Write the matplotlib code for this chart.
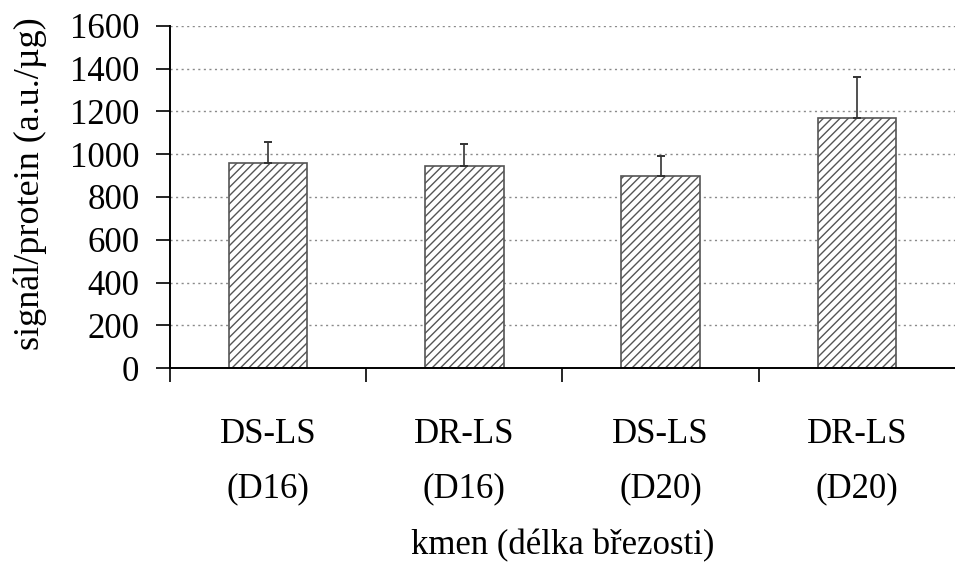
import matplotlib.pyplot as plt
import numpy as np

# Data
categories = ["DS-LS\n(D16)", "DR-LS\n(D16)", "DS-LS\n(D20)", "DR-LS\n(D20)"]
values = [960, 945, 900, 1170]
errors = [97, 103, 90, 190]
y_ticks = [0, 200, 400, 600, 800, 1000, 1200, 1400, 1600]

plt.rcParams['font.family'] = ['Liberation Serif', 'DejaVu Serif']
plt.rcParams['hatch.color'] = '#808080'
plt.rcParams['hatch.linewidth'] = 1.0

fig = plt.figure(figsize=(9.55, 5.62), dpi=100)
ax = fig.add_axes([0.178, 0.345, 0.822, 0.609])

x = np.arange(len(categories)) + 0.5

# Dotted horizontal grid lines
for yt in y_ticks[1:]:
    ax.axhline(yt, color='#8a8a8a', linestyle=(0, (1.5, 2.5)), linewidth=1.0, zorder=0)

ax.bar(x, values, width=0.4, color='white', edgecolor='#555555', linewidth=1.2,
       hatch='////', zorder=2)
ax.errorbar(x, values, yerr=[np.zeros(len(errors)), errors], fmt='none',
            ecolor='#333333', elinewidth=1.2, capsize=3, capthick=1.4, zorder=3)

ax.set_xlim(0, 4)
ax.set_ylim(0, 1600)
ax.set_yticks(y_ticks)
ax.tick_params(axis='y', direction='out', length=10, width=1.2, labelsize=25, pad=12)

# Category boundaries as ticks, labels centered in each category
ax.set_xticks([0, 1, 2, 3])
ax.set_xticklabels([])
ax.set_xticks(x, minor=True)
ax.set_xticklabels(categories, minor=True, fontsize=25, linespacing=1.85)
ax.tick_params(axis='x', which='major', direction='out', length=10, width=1.2)
ax.tick_params(axis='x', which='minor', length=0, pad=36)

for side in ['top', 'right']:
    ax.spines[side].set_visible(False)
for side in ['left', 'bottom']:
    ax.spines[side].set_linewidth(1.4)

ax.set_ylabel("signál/protein (a.u./µg)", fontsize=26)
ax.yaxis.set_label_coords(-0.157, 0.54)
ax.set_xlabel("kmen (délka březosti)", fontsize=25, labelpad=17)

fig.savefig("out.png", dpi=100)
